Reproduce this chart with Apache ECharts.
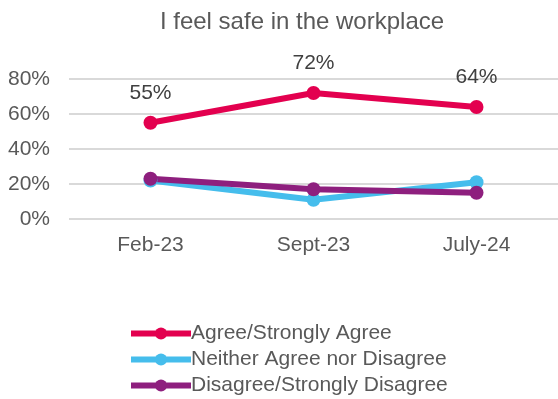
<!DOCTYPE html>
<html>
<head>
<meta charset="utf-8">
<script src="https://cdn.jsdelivr.net/npm/echarts@6/dist/echarts.min.js"></script>
<style>
  html, body { margin: 0; padding: 0; background: #fff; }
  #chart { width: 558px; height: 399px; }
</style>
</head>
<body>
<div id="chart"></div>
<script>
const categories = ['Feb-23', 'Sept-23', 'July-24'];
const agree = [55, 72, 64];
const neither = [22, 11, 21];
const disagree = [23, 17, 15];
const yTicks = [0, 20, 40, 60, 80];

const seriesNames = ['Agree/Strongly Agree', 'Neither Agree nor Disagree', 'Disagree/Strongly Disagree'];
const seriesColors = ['#E3004F', '#45BDEC', '#8E1F7E'];
const seriesData = [agree, neither, disagree];

const font = 'Liberation Sans, Arial, sans-serif';
const chart = echarts.init(document.getElementById('chart'), null, { renderer: 'canvas' });

chart.setOption({
  animation: false,
  title: {
    text: 'I feel safe in the workplace',
    left: 297, top: 5, textAlign: 'center',
    textStyle: { fontFamily: font, fontSize: 24, fontWeight: 'normal', color: '#595959' }
  },
  grid: { left: 69, right: -3, top: 79, height: 140, containLabel: false },
  legend: {
    orient: 'vertical', left: 128, top: 323, padding: 0, itemGap: 5,
    itemWidth: 60, itemHeight: 15,
    data: seriesNames,
    lineStyle: { width: 6 },
    textStyle: { fontFamily: font, fontSize: 21, color: '#595959', padding: [0, 0, 0, -5] }
  },
  xAxis: {
    type: 'category', data: categories, boundaryGap: true,
    axisLine: { show: false }, axisTick: { show: false },
    axisLabel: { fontFamily: font, fontSize: 21, color: '#595959', margin: 16 }
  },
  yAxis: {
    type: 'value', min: yTicks[0], max: yTicks[yTicks.length - 1], interval: 20,
    axisLine: { show: false }, axisTick: { show: false },
    axisLabel: { fontFamily: font, fontSize: 21, color: '#595959', margin: 19, formatter: v => v + '%' },
    splitLine: { lineStyle: { color: '#D9D9D9', width: 2 } }
  },
  // series share one z level, so later ones are drawn over earlier ones
  series: seriesNames.map((name, i) => ({
    name, type: 'line', data: seriesData[i],
    color: seriesColors[i],
    symbol: 'circle', symbolSize: 14,
    lineStyle: { width: 6, color: seriesColors[i] },
    itemStyle: { color: seriesColors[i], borderColor: seriesColors[i], borderWidth: 0 },
    label: i === 0 ? {
      show: true, position: 'top', distance: 12,
      fontFamily: font, fontSize: 21, color: '#404040',
      formatter: p => p.value + '%'
    } : { show: false }
  }))
});
</script>
</body>
</html>
